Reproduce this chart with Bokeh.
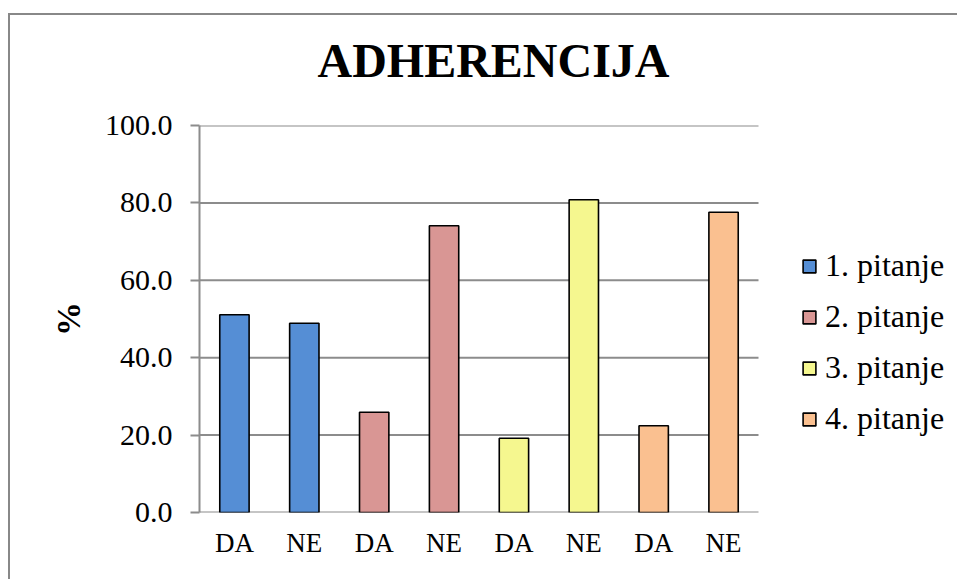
from bokeh.plotting import figure
from bokeh.models import (Range1d, FixedTicker, NumeralTickFormatter, Legend, LegendItem,
                          ColumnDataSource, Title)
from bokeh.embed import file_html
from bokeh.resources import INLINE

# ---- data ----
title_text = "ADHERENCIJA"
y_label = "%"
categories = ["DA", "NE", "DA", "NE", "DA", "NE", "DA", "NE"]
series_names = ["1. pitanje", "2. pitanje", "3. pitanje", "4. pitanje"]
values = [51.1, 48.9, 25.9, 74.1, 19.2, 80.8, 22.4, 77.6]
series_colors = ["#558ED5", "#D99694", "#F5F78F", "#FAC090"]
y_ticks = [0, 20, 40, 60, 80, 100]

FONT = "Liberation Serif"
GRID = "#8C8C8C"

# canvas sits at page (10, 15) because of the css margin + border
W, H = 949, 566
FL, FT = 189, 110          # frame left / top in canvas px
FR, FB = 940, 497          # frame right / bottom in canvas px
PLOT_W = 559               # px covered by the 8 categories
n = len(categories)
x_end = n * (FR - FL) / PLOT_W

p = figure(width=W, height=H, output_backend="svg", toolbar_location=None, title=None,
           x_range=Range1d(0, x_end), y_range=Range1d(0, 100),
           min_border_left=FL, min_border_right=W - FR,
           min_border_top=FT, min_border_bottom=H - FB)
p.outline_line_color = None
p.background_fill_color = "white"
p.border_fill_color = "white"
p.styles = {"border-left": "2px solid #888888", "border-top": "2px solid #888888",
            "margin-left": "8px", "margin-top": "13px"}

# spacer between frame and title, then the title itself
p.add_layout(Title(text=" ", text_font_size="12px", standoff=23), "above")
p.add_layout(Title(text=title_text, text_font=FONT, text_font_style="bold",
                   text_font_size="48px", text_color="black", align="left",
                   offset=118, standoff=0), "above")

# gridlines limited to the category area
p.segment(x0=[0] * len(y_ticks), x1=[n] * len(y_ticks), y0=y_ticks, y1=y_ticks,
          line_color=GRID, line_width=2)

xs = [i + 0.5 for i in range(n)]
items = []
for s, name in enumerate(series_names):
    src = ColumnDataSource(dict(x=xs[2*s:2*s+2], top=values[2*s:2*s+2]))
    r = p.vbar(x="x", top="top", width=0.42, bottom=0, source=src,
               fill_color=series_colors[s], line_color="black", line_width=1.6)
    items.append(LegendItem(label=name, renderers=[r]))

# axes
p.xaxis.ticker = FixedTicker(ticks=xs)
p.xaxis.major_label_overrides = {x: c for x, c in zip(xs, categories)}
p.xaxis.major_tick_line_color = None
p.xaxis.minor_tick_line_color = None
p.xaxis.axis_line_color = None
p.xaxis.major_label_text_font = FONT
p.xaxis.major_label_text_font_size = "27px"
p.xaxis.major_label_text_color = "black"
p.xaxis.major_label_standoff = 9

p.yaxis.ticker = FixedTicker(ticks=y_ticks)
p.yaxis.formatter = NumeralTickFormatter(format="0.0")
p.yaxis.major_tick_in = 0
p.yaxis.major_tick_out = 9
p.yaxis.major_tick_line_color = GRID
p.yaxis.major_tick_line_width = 2
p.yaxis.minor_tick_line_color = None
p.yaxis.axis_line_color = GRID
p.yaxis.axis_line_width = 2
p.yaxis.major_label_text_font = FONT
p.yaxis.major_label_text_font_size = "30px"
p.yaxis.major_label_text_color = "black"
p.yaxis.major_label_standoff = 18
p.yaxis.axis_label = y_label
p.yaxis.axis_label_text_font = FONT
p.yaxis.axis_label_text_font_style = "bold"
p.yaxis.axis_label_text_font_size = "34px"
p.yaxis.axis_label_text_color = "black"
p.yaxis.axis_label_standoff = 15

p.xgrid.grid_line_color = None
p.ygrid.grid_line_color = None

legend = Legend(items=items, location=(602, 75), orientation="vertical",
                glyph_width=16, glyph_height=16, label_standoff=8, spacing=14,
                padding=0, margin=0, border_line_color=None, background_fill_alpha=0)
legend.label_text_font = FONT
legend.label_text_font_size = "32px"
legend.label_text_color = "black"
p.add_layout(legend, "center")

open("out.html", "w").write(file_html(p, INLINE))
